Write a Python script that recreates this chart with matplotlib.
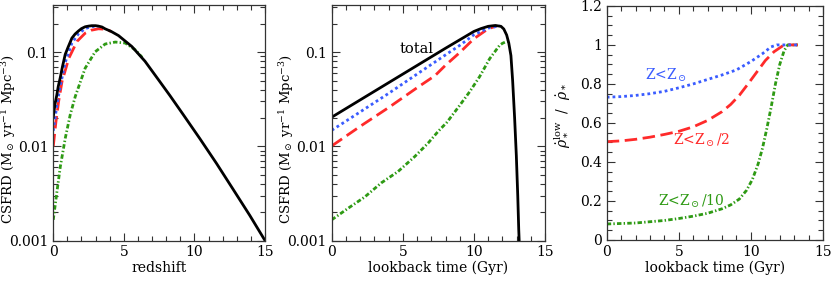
import numpy as np
import matplotlib
matplotlib.use("Agg")
import matplotlib.pyplot as plt
from matplotlib.ticker import MultipleLocator, LogLocator, NullFormatter, FixedLocator, FixedFormatter

plt.rcParams['font.family'] = ['DejaVu Serif']
plt.rcParams['mathtext.fontset'] = 'dejavuserif'
plt.rcParams['font.size'] = 10

# colours
c_blue = '#3a5cff'
c_red = '#ff2a2a'
c_green = '#2e9a14'

# ---- panel 1: CSFRD vs redshift ----
z_tot = [0, 0.12, 0.25, 0.35, 0.5, 0.65, 0.85, 1.05, 1.32, 1.55, 1.79, 2.0, 2.26, 2.5, 2.73, 3.0, 3.2, 3.45, 3.67, 4.1, 4.62,
         5.56, 6.5, 7.45, 8.27, 9.2, 10.38, 11.56, 12.74, 13.92, 15.0]
sfr_tot_z = [0.0204, 0.028, 0.035, 0.043, 0.054, 0.07, 0.095, 0.113, 0.141, 0.156, 0.168, 0.178, 0.186, 0.189, 0.191, 0.191, 0.189, 0.185, 0.177, 0.166, 0.150,
             0.115, 0.080, 0.051, 0.0345, 0.0218, 0.0121, 0.0066, 0.0035, 0.00185, 0.001]
z_blue = [0, 0.25, 0.5, 0.85, 1.32, 1.79, 2.26, 2.73, 3.2]
sfr_blue_z = [0.0146, 0.027, 0.044, 0.078, 0.125, 0.157, 0.178, 0.187, 0.188]
z_red = [0, 0.19, 0.38, 0.62, 1.1, 1.68, 2.26, 2.7, 3.2, 3.7, 4.1]
sfr_red_z = [0.010, 0.0183, 0.030, 0.0488, 0.086, 0.13, 0.159, 0.171, 0.177, 0.175, 0.166]
z_green = [0, 0.26, 0.5, 0.85, 1.2, 1.56, 2.26, 2.97, 3.68, 4.39, 5.1, 5.8, 6.3]
sfr_green_z = [0.00166, 0.0033, 0.0061, 0.0122, 0.0216, 0.0339, 0.0676, 0.101, 0.122, 0.128, 0.125, 0.106, 0.088]

# ---- panel 2: CSFRD vs lookback time ----
t_tot = [0, 2, 4, 6, 8, 10, 10.5, 11.0, 11.5, 11.9, 12.1, 12.3, 12.45, 12.6, 12.72, 12.86, 12.98, 13.08, 13.15, 13.18]
sfr_tot_t = [0.0204, 0.0311, 0.0474, 0.0722, 0.110, 0.166, 0.178, 0.188, 0.192, 0.188, 0.176, 0.152, 0.125, 0.092, 0.05, 0.02, 0.008, 0.003, 0.0013, 0.001]
t_blue = [0, 2, 4, 6, 8, 9, 10, 11, 11.8]
sfr_blue_t = [0.0148, 0.0232, 0.0365, 0.0585, 0.0935, 0.118, 0.153, 0.18, 0.19]
t_red = [0, 2, 4, 6, 7.26, 8, 9, 10, 11, 11.6]
sfr_red_t = [0.0101, 0.0163, 0.0258, 0.0419, 0.0563, 0.0726, 0.099, 0.139, 0.177, 0.19]
t_green = [0, 1.15, 2.32, 3.49, 4.66, 5.84, 6.77, 7.48, 8.1, 8.9, 9.7, 10.4, 11.1, 11.8, 12.0, 12.2, 12.4]
sfr_green_t = [0.00166, 0.0022, 0.0029, 0.0041, 0.0054, 0.0078, 0.0108, 0.0144, 0.018, 0.026, 0.038, 0.055, 0.085, 0.118, 0.124, 0.128, 0.13]

# ---- panel 3: low-metallicity fraction vs lookback time ----
tf_blue = [0, 1, 2, 3, 4, 5, 6, 7, 8, 9, 10, 10.8, 11.4, 11.8, 13.25]
frac_blue = [0.732, 0.735, 0.741, 0.750, 0.762, 0.78, 0.80, 0.823, 0.846, 0.872, 0.915, 0.955, 0.99, 1.0, 1.0]
tf_red = [0, 1, 2, 3, 4, 5, 6, 7, 8, 8.6, 9.2, 9.8, 10.4, 11.0, 11.6, 12.3, 13.25]
frac_red = [0.504, 0.508, 0.516, 0.527, 0.541, 0.557, 0.58, 0.613, 0.658, 0.695, 0.742, 0.80, 0.86, 0.92, 0.965, 1.0, 1.0]
tf_green = [0, 2, 4, 5, 6, 7, 8, 8.6, 9.2, 9.7, 10.1, 10.5, 10.8, 11.1, 11.4, 11.7, 12.0, 12.3, 12.55, 13.25]
frac_green = [0.082, 0.087, 0.1, 0.11, 0.122, 0.137, 0.16, 0.18, 0.21, 0.255, 0.31, 0.39, 0.47, 0.57, 0.68, 0.8, 0.9, 0.97, 1.0, 1.0]

lw = 2.0
ls_blue = (0, (1, 1.1))
ls_red = (0, (4.5, 2))
ls_green = (0, (1.6, 0.8, 0.5, 0.8))

fig = plt.figure(figsize=(8.31, 2.81), dpi=100)
ax1 = fig.add_axes([0.0641, 0.144, 0.2548, 0.838])
ax2 = fig.add_axes([0.3992, 0.144, 0.2567, 0.838])
ax3 = fig.add_axes([0.7301, 0.146, 0.2603, 0.833])


def style_log(ax, xlab):
    ax.set_yscale('log')
    ax.set_ylim(0.001, 10 ** -0.5)
    ax.set_xlim(0, 15)
    ax.yaxis.set_major_locator(FixedLocator([0.001, 0.01, 0.1]))
    ax.yaxis.set_major_formatter(FixedFormatter(['0.001', '0.01', '0.1']))
    ax.yaxis.set_minor_locator(LogLocator(base=10, subs=np.arange(2, 10)))
    ax.yaxis.set_minor_formatter(NullFormatter())
    ax.xaxis.set_major_locator(MultipleLocator(5))
    ax.xaxis.set_minor_locator(MultipleLocator(1))
    ax.set_ylabel(r'CSFRD (M$_\odot$ yr$^{-1}$ Mpc$^{-3}$)', fontsize=9.5)
    ax.yaxis.set_label_coords(xlab, 0.43)


for ax in (ax1, ax2, ax3):
    ax.tick_params(which='both', direction='in', top=True, right=True, width=0.8, colors='#333333',
                   labelcolor='black', labelsize=10)
    ax.tick_params(which='major', length=6, pad=3.5)
    ax.tick_params(which='minor', length=3.5)
    for s in ax.spines.values():
        s.set_linewidth(0.9)
        s.set_color('#333333')

style_log(ax1, -0.168)
ax1.plot(z_green, sfr_green_z, color=c_green, lw=lw, ls=ls_green)
ax1.plot(z_red, sfr_red_z, color=c_red, lw=lw, ls=ls_red)
ax1.plot(z_blue, sfr_blue_z, color=c_blue, lw=lw, ls=ls_blue)
ax1.plot(z_tot, sfr_tot_z, color='black', lw=lw)
ax1.set_xlabel('redshift', labelpad=1)

style_log(ax2, -0.167)
ax2.plot(t_green, sfr_green_t, color=c_green, lw=lw, ls=ls_green)
ax2.plot(t_red, sfr_red_t, color=c_red, lw=lw, ls=ls_red)
ax2.plot(t_blue, sfr_blue_t, color=c_blue, lw=lw, ls=ls_blue)
ax2.plot(t_tot, sfr_tot_t, color='black', lw=lw)
ax2.text(5.93, 0.108, 'total', ha='center', va='center', fontsize=10.5)
ax2.set_xlabel('lookback time (Gyr)', labelpad=1)

ax3.set_xlim(0, 15)
ax3.set_ylim(0, 1.2)
ax3.xaxis.set_major_locator(MultipleLocator(5))
ax3.xaxis.set_minor_locator(MultipleLocator(1))
ax3.yaxis.set_major_locator(FixedLocator([0, 0.2, 0.4, 0.6, 0.8, 1.0, 1.2]))
ax3.yaxis.set_major_formatter(FixedFormatter(['0', '0.2', '0.4', '0.6', '0.8', '1', '1.2']))
ax3.yaxis.set_minor_locator(MultipleLocator(0.05))
ax3.plot(tf_green, frac_green, color=c_green, lw=lw, ls=ls_green)
ax3.plot(tf_red, frac_red, color=c_red, lw=lw, ls=ls_red)
ax3.plot(tf_blue, frac_blue, color=c_blue, lw=lw, ls=ls_blue)
ax3.text(4.14, 0.846, r'Z<Z$_\odot$', color=c_blue, ha='center', va='center', fontsize=10)
ax3.text(6.55, 0.513, r'Z<Z$_\odot$/2', color=c_red, ha='center', va='center', fontsize=10)
ax3.text(5.9, 0.196, r'Z<Z$_\odot$/10', color=c_green, ha='center', va='center', fontsize=10)
ax3.set_xlabel('lookback time (Gyr)', labelpad=1)
ax3.set_ylabel(r'$\dot{\rho}_*^{\rm low}$  /  $\dot{\rho}_*$', fontsize=10)
ax3.yaxis.set_label_coords(-0.16, 0.534)

fig.savefig('out.png', dpi=100)
